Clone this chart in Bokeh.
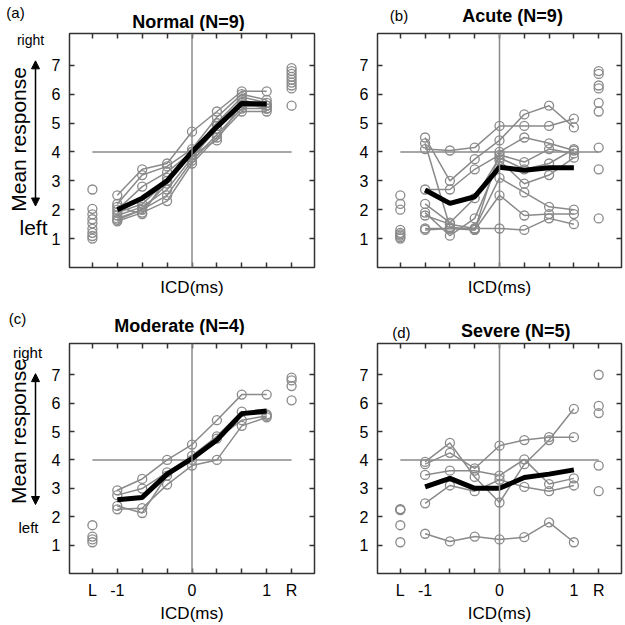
import math
from bokeh.plotting import figure
from bokeh.models import (Range1d, LinearAxis, FixedTicker, Span, Label, Arrow,
                          NormalHead)
from bokeh.layouts import row, column
from bokeh.embed import file_html
from bokeh.resources import INLINE

# ---------------- data ----------------
# ICD positions in steps of 1/3 ms (-3 = -1 ms ... +3 = +1 ms); L / R = monaural
ICD_POS = [-3, -2, -1, 0, 1, 2, 3]
L_POS = -4
R_POS = 4
XTICK_POS = [-4, -3, -2, -1, 0, 1, 2, 3, 4]
XTICK_LABELS = {-4: "L", -3: "-1", 0: "0", 3: "1", 4: "R"}
YTICKS = [1, 2, 3, 4, 5, 6, 7]
CENTER_RESPONSE = 4

NORMAL_SUBJECTS = [
    [2.5, 3.4, 3.6, 4.7, 5.4, 6.1, 6.1],
    [2.2, 3.2, 3.5, 4.1, 5.2, 6.0, 5.8],
    [2.0, 2.8, 3.3, 4.0, 5.0, 5.9, 5.7],
    [1.9, 2.2, 3.0, 3.9, 4.9, 5.8, 5.6],
    [1.8, 2.1, 2.7, 3.8, 4.8, 5.6, 5.6],
    [1.7, 2.0, 2.5, 3.7, 4.6, 5.5, 5.5],
    [1.6, 1.9, 2.3, 3.6, 4.5, 5.4, 5.4],
    [2.1, 1.85, 3.1, 3.9, 4.4, 5.7, 5.5],
    [1.65, 2.0, 2.9, 4.0, 5.0, 5.6, 5.6],
]
NORMAL_MEAN = [2.0, 2.4, 3.0, 4.0, 4.87, 5.68, 5.66]
NORMAL_L = [2.7, 2.03, 1.84, 1.67, 1.53, 1.34, 1.2, 1.09, 1.0]
NORMAL_R = [6.9, 6.8, 6.7, 6.6, 6.5, 6.4, 6.3, 6.2, 5.6]

ACUTE_SUBJECTS = [
    [4.1, 4.05, 4.15, 4.9, 4.9, 4.9, 5.15],
    [4.5, 3.0, 3.75, 4.4, 5.3, 5.6, 4.85],
    [4.3, 1.4, 1.3, 4.0, 4.5, 4.3, 4.05],
    [2.7, 2.7, 3.4, 3.9, 3.65, 4.1, 3.95],
    [2.2, 1.55, 2.4, 3.8, 3.4, 3.6, 4.1],
    [1.9, 1.1, 1.7, 3.7, 2.9, 3.2, 3.8],
    [1.8, 1.5, 1.35, 3.1, 2.6, 2.1, 2.0],
    [1.35, 1.35, 1.3, 2.5, 1.8, 1.85, 1.85],
    [1.3, 1.35, 1.35, 1.35, 1.3, 1.7, 1.5],
]
ACUTE_MEAN = [2.68, 2.22, 2.45, 3.47, 3.37, 3.45, 3.45]
ACUTE_L = [2.5, 2.2, 2.0, 1.3, 1.2, 1.15, 1.1, 1.05, 1.0]
ACUTE_R = [6.8, 6.7, 6.3, 6.2, 5.7, 5.4, 4.15, 3.4, 1.7]

MODERATE_SUBJECTS = [
    [2.93, 3.33, 4.0, 4.54, 5.4, 6.3, 6.3],
    [2.76, 2.99, 3.56, 4.14, 4.83, 5.7, 5.6],
    [2.38, 2.13, 3.45, 4.0, 4.75, 5.4, 5.55],
    [2.26, 2.3, 3.13, 3.8, 4.0, 5.2, 5.5],
]
MODERATE_MEAN = [2.6, 2.68, 3.5, 4.05, 4.7, 5.63, 5.72]
MODERATE_L = [1.7, 1.3, 1.2, 1.1]
MODERATE_R = [6.9, 6.8, 6.6, 6.1]

SEVERE_SUBJECTS = [
    [3.93, 4.6, 3.4, 2.5, 3.85, 4.7, 5.8],
    [3.85, 4.25, 3.7, 4.5, 4.7, 4.8, 4.8],
    [3.47, 3.62, 3.62, 3.45, 4.02, 3.15, 3.35],
    [2.47, 3.1, 2.9, 3.3, 3.05, 2.9, 3.1],
    [1.4, 1.13, 1.3, 1.2, 1.28, 1.8, 1.1],
]
SEVERE_MEAN = [3.05, 3.35, 3.0, 3.0, 3.38, 3.5, 3.65]
SEVERE_L = [2.27, 2.23, 2.25, 1.7, 1.1]
SEVERE_R = [7.0, 5.9, 5.65, 3.8, 2.9]

# ---------------- style / layout ----------------
FONT = "Liberation Sans"
FRAME = "#333333"
GREY = "#8a8a8a"
XR = 4.92
YMAX = 8.1
DECO_W = 48
LEFT_W = 318          # left column (decoration + panels a / c)
RIGHT_W = 307         # right column (panels b / d)


def blank(x0, x1, y0, y1):
    f = figure(width=x1 - x0, height=y1 - y0,
               x_range=Range1d(x0, x1), y_range=Range1d(y1, y0),
               x_axis_type=None, y_axis_type=None, toolbar_location=None,
               output_backend="svg", min_border=0, outline_line_color=None)
    f.background_fill_color = "white"
    f.border_fill_color = "white"
    return f


def text_label(f, x, y, text, size, bold=False, angle=0.0, baseline="middle"):
    f.add_layout(Label(x=x, y=y, text=text, angle=angle,
                       text_font=FONT, text_font_size=size,
                       text_font_style="bold" if bold else "normal",
                       text_align="center", text_baseline=baseline,
                       text_color="black"))


def header(x0, x1, y0, y1, items):
    h = blank(x0, x1, y0, y1)
    for (x, y, txt, size, bold) in items:
        text_label(h, x, y, txt, size, bold)
    return h


def deco(y0, y1, arrow_top, arrow_bot, mr_y, right_xy, right_size, left_xy, left_size):
    d = blank(0, DECO_W, y0, y1)
    d.add_layout(Arrow(start=NormalHead(size=8, fill_color="black", line_color="black"),
                       end=NormalHead(size=8, fill_color="black", line_color="black"),
                       x_start=35, y_start=arrow_bot, x_end=35, y_end=arrow_top,
                       line_width=1.5, line_color="black"))
    text_label(d, 18, mr_y, "Mean response", "21px", angle=math.pi / 2,
               baseline="alphabetic")
    text_label(d, right_xy[0], right_xy[1], "right", right_size)
    text_label(d, left_xy[0], left_xy[1], "left", left_size)
    return d


def style_ticks(ax):
    ax.major_tick_in = 5
    ax.major_tick_out = 0
    ax.major_tick_line_color = FRAME
    ax.major_tick_line_width = 1.5
    ax.minor_tick_line_color = None
    ax.axis_line_color = None
    ax.major_label_text_font = FONT
    ax.major_label_text_color = "black"


def panel(subjects, mean, lvals, rvals, y0, y1, top, bottom, left, width, xlab):
    p = figure(width=width, height=y1 - y0,
               x_range=Range1d(-XR, XR), y_range=Range1d(0, YMAX),
               x_axis_type=None, y_axis_type=None,
               toolbar_location=None, output_backend="svg",
               min_border_left=left, min_border_right=4,
               min_border_top=top, min_border_bottom=bottom)
    p.outline_line_color = FRAME
    p.outline_line_width = 1.5
    p.outline_line_alpha = 1.0
    p.background_fill_color = "white"
    p.border_fill_color = "white"

    xb = LinearAxis(ticker=FixedTicker(ticks=XTICK_POS))
    style_ticks(xb)
    if xlab:
        xb.major_label_overrides = {t: XTICK_LABELS.get(t, "") for t in XTICK_POS}
        xb.major_label_text_font_size = "16px"
        xb.major_label_standoff = 8
        xb.axis_label_standoff = 2
    else:
        xb.major_label_overrides = {t: "" for t in XTICK_POS}
        xb.major_label_text_font_size = "0px"
        xb.major_label_standoff = 0
        xb.axis_label_standoff = 10
    xb.axis_label = "ICD(ms)"
    xb.axis_label_text_font = FONT
    xb.axis_label_text_font_size = "17px"
    xb.axis_label_text_font_style = "normal"
    xb.axis_label_text_color = "black"
    p.add_layout(xb, "below")

    xt = LinearAxis(ticker=FixedTicker(ticks=XTICK_POS))
    style_ticks(xt)
    xt.major_label_overrides = {t: "" for t in XTICK_POS}
    xt.major_label_text_font_size = "0px"
    xt.major_label_standoff = 0
    p.add_layout(xt, "above")

    yl = LinearAxis(ticker=FixedTicker(ticks=YTICKS))
    style_ticks(yl)
    yl.major_label_text_font_size = "16px"
    yl.major_label_standoff = 9
    p.add_layout(yl, "left")

    yr = LinearAxis(ticker=FixedTicker(ticks=YTICKS))
    style_ticks(yr)
    yr.major_label_overrides = {t: "" for t in YTICKS}
    yr.major_label_text_font_size = "0px"
    yr.major_label_standoff = 0
    p.add_layout(yr, "right")

    # reference lines
    p.add_layout(Span(location=0, dimension="height", line_color=GREY, line_width=1.5))
    p.segment(x0=[L_POS], y0=[CENTER_RESPONSE], x1=[R_POS], y1=[CENTER_RESPONSE],
              line_color=GREY, line_width=1.5)

    for s in subjects:
        p.line(ICD_POS, s, line_color=GREY, line_width=1.5)
        p.scatter(ICD_POS, s, marker="circle", size=9, fill_color=None,
                  line_color=GREY, line_width=1.3)
    p.scatter([L_POS] * len(lvals), lvals, marker="circle", size=9, fill_color=None,
              line_color=GREY, line_width=1.3)
    p.scatter([R_POS] * len(rvals), rvals, marker="circle", size=9, fill_color=None,
              line_color=GREY, line_width=1.3)
    p.line(ICD_POS, mean, line_color="black", line_width=5)
    return p


# ----- left column: (a) Normal, (c) Moderate -----
h1L = header(0, LEFT_W, 0, 31, [(15, 12, "(a)", "15px", False),
                                (188, 21, "Normal (N=9)", "18px", True)])
da = deco(31, 305, 63, 233, 155, (30, 39), "14px", (33, 258), "21px")
pa = panel(NORMAL_SUBJECTS, NORMAL_MEAN, NORMAL_L, NORMAL_R,
           31, 305, 2, 38, 20, LEFT_W - DECO_W, False)
h2L = header(0, LEFT_W, 305, 335, [(17, 318, "(c)", "15px", False),
                                  (179, 325, "Moderate (N=4)", "18px", True)])
dc = deco(335, 625, 373, 538, 446, (27, 346), "15px", (28, 567), "15px")
pc = panel(MODERATE_SUBJECTS, MODERATE_MEAN, MODERATE_L, MODERATE_R,
           335, 625, 8, 48, 20, LEFT_W - DECO_W, True)
left_col = column(h1L, row(da, pa), h2L, row(dc, pc))

# ----- right column: (b) Acute, (d) Severe -----
h1R = header(LEFT_W, LEFT_W + RIGHT_W, 0, 31, [(345, 15, "(b)", "15px", False),
                                              (488, 15, "Acute (N=9)", "18px", True)])
pb = panel(ACUTE_SUBJECTS, ACUTE_MEAN, ACUTE_L, ACUTE_R,
           31, 305, 2, 38, 59, RIGHT_W, False)
h2R = header(LEFT_W, LEFT_W + RIGHT_W, 305, 341, [(348, 332, "(d)", "15px", False),
                                                 (492, 330, "Severe (N=5)", "18px", True)])
pd = panel(SEVERE_SUBJECTS, SEVERE_MEAN, SEVERE_L, SEVERE_R,
           341, 625, 2, 48, 59, RIGHT_W, True)
right_col = column(h1R, pb, h2R, pd)

layout = row(left_col, right_col)
open("out.html", "w").write(file_html(layout, INLINE))
